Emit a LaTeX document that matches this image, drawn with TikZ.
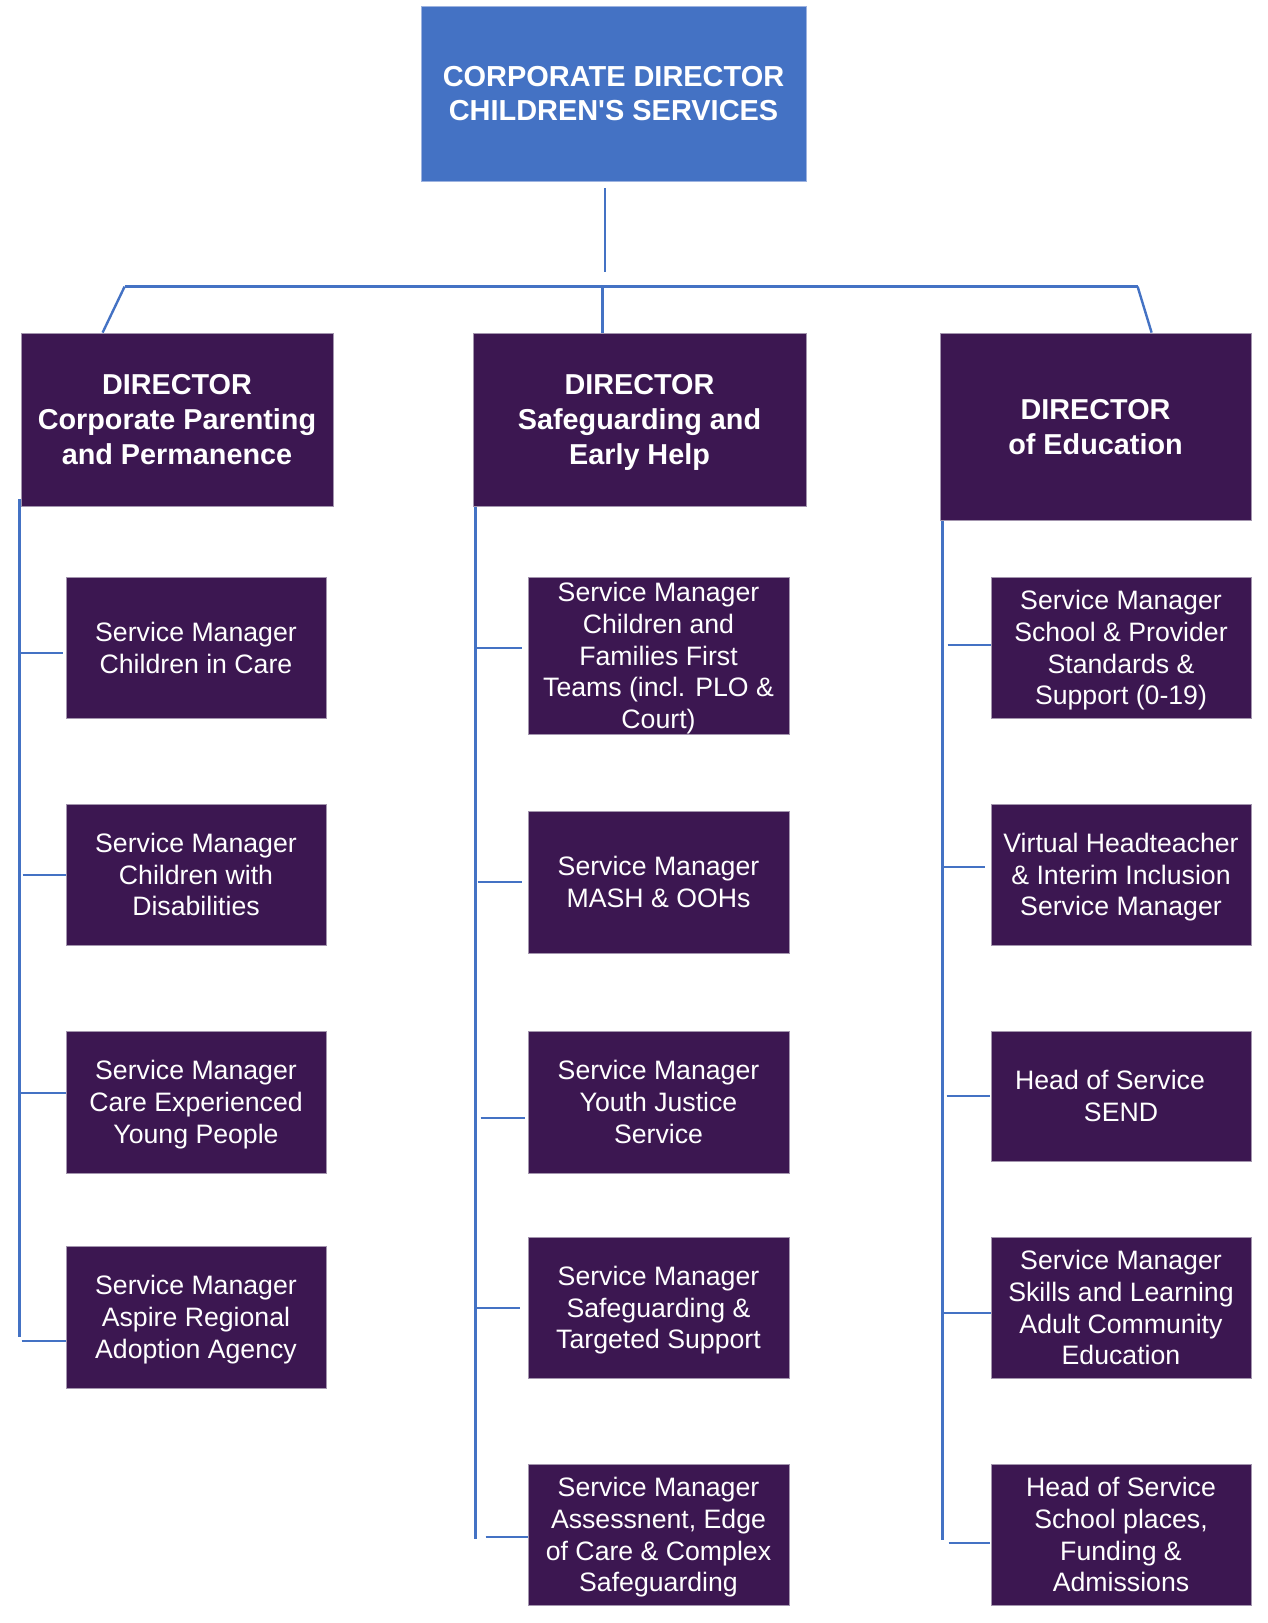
\documentclass[tikz,border=0pt]{standalone}
\usepackage{fontspec}
\setmainfont{Liberation Sans}
\newfontfamily\plainsans{Liberation Sans}
\usetikzlibrary{calc,backgrounds}
\definecolor{topblue}{HTML}{4472C4}
\definecolor{linkblue}{HTML}{4472C4}
\definecolor{darkpurple}{HTML}{3C1751}
\definecolor{boxedge}{HTML}{A395AE}
\definecolor{topedge}{HTML}{9DB3E0}
\begin{document}
\begin{tikzpicture}[x=0.75pt,y=-0.75pt,
  topbox/.style={fill=topblue,draw=topedge,line width=0.6pt,text=white,inner sep=0pt,align=center,
    text depth=0pt,font=\bfseries\fontsize{21.7}{25.5}\selectfont},
  dirbox/.style={fill=darkpurple,draw=boxedge,line width=0.6pt,text=white,inner sep=0pt,align=center,
    text depth=0pt,font=\bfseries\fontsize{21.6}{26.2}\selectfont},
  smbox/.style={fill=darkpurple,draw=boxedge,line width=0.6pt,text=white,inner sep=0pt,align=center,
    text depth=0pt,minimum width=195pt,font=\fontsize{20}{23.8}\selectfont},
  link/.style={draw=linkblue,line width=1.8pt}]
\useasboundingbox (0,0) rectangle (1267,1623);

% top
\node[topbox,minimum width=288.75pt,minimum height=131.25pt] (top) at (613.5,93.5)
  {CORPORATE DIRECTOR\\CHILDREN{\plainsans '}S SERVICES};

% directors
\node[dirbox,minimum width=234pt,minimum height=129.75pt] (dL) at (177,419.5)
  {DIRECTOR\\Corporate Parenting\\and Permanence};
\node[dirbox,minimum width=249.75pt,minimum height=129.75pt] (dM) at (639.5,419.5)
  {DIRECTOR\\Safeguarding and\\Early Help};
\node[dirbox,minimum width=233.25pt,minimum height=140.25pt] (dR) at (1095.5,426.5)
  {DIRECTOR\\of Education};

% left column
\node[smbox,minimum height=105.75pt] (lc1) at (196,647.5) {Service Manager\\Children in Care};
\node[smbox,minimum height=105.75pt] (lc2) at (196,874.5) {Service Manager\\Children with\\Disabilities};
\node[smbox,minimum height=106.5pt] (lc3) at (196,1102) {Service Manager\\Care Experienced\\Young People};
\node[smbox,minimum height=106.5pt] (lc4) at (196,1317) {Service Manager\\Aspire Regional\\Adoption Agency};

% middle column
\node[smbox,minimum width=195.75pt,minimum height=117.75pt] (mc1) at (658.5,655.5)
  {Service Manager\\Children and\\Families First\\Teams (incl. PLO \&\\Court)};
\node[smbox,minimum width=195.75pt,minimum height=106.5pt] (mc2) at (658.5,882)
  {Service Manager\\MASH \& OOHs};
\node[smbox,minimum width=195.75pt,minimum height=106.5pt] (mc3) at (658.5,1102)
  {Service Manager\\Youth Justice\\Service};
\node[smbox,minimum width=195.75pt,minimum height=105.75pt] (mc4) at (658.5,1307.5)
  {Service Manager\\Safeguarding \&\\Targeted Support};
\node[smbox,minimum width=195.75pt,minimum height=105.75pt] (mc5) at (658.5,1534.5)
  {Service Manager\\Assessnent, Edge\\of Care \& Complex\\Safeguarding};

% right column
\node[smbox,minimum height=105.75pt] (rc1) at (1121,647.5)
  {Service Manager\\School \& Provider\\Standards \&\\Support (0-19)};
\node[smbox,minimum height=105.75pt] (rc2) at (1121,874.5)
  {Virtual Headteacher\\\& Interim Inclusion\\Service Manager};
\node[smbox,minimum height=97.5pt] (rc3) at (1121,1096)
  {Head of Service\hspace*{16.5pt}\\SEND};
\node[smbox,minimum height=105.75pt] (rc4) at (1121,1307.5)
  {Service Manager\\Skills and Learning\\Adult Community\\Education};
\node[smbox,minimum height=105.75pt] (rc5) at (1121,1534.5)
  {Head of Service\\School places,\\Funding \&\\Admissions};

\begin{pgfonlayer}{background}
\fill[white] (0,0) rectangle (1267,1623);
% top connectors
\coordinate (t1) at ($(top.south)+(-8.5,7)$);
\coordinate (t2) at ($(top.south)+(-8.5,91)$);
\draw[link] (t1) -- (t2);
\coordinate (b1) at ($(dL.north west)+(104,-46)$);
\coordinate (b2) at ($(dR.north west)+(198,-46)$);
\coordinate (bm) at ($(dM.north west)+(130,-46)$);
\draw[link] (b1) -- (b2);
\draw[link] (b1) -- ($(dL.north west)+(82,0)$);
\draw[link] (bm) -- ($(dM.north west)+(130,0)$);
\draw[link] (b2) -- ($(dR.north west)+(212,0)$);

% left trunk and branches
\draw[link] ($(dL.south west)+(-1,-7)$) -- ($(lc4.west)+(-46,20)$);
\draw[link] ($(lc1.west)+(-46,5.5)$) -- ($(lc1.west)+(-3,5.5)$);
\draw[link] ($(lc2.west)+(-43,0.5)$) -- ($(lc2.west)+(0,0.5)$);
\draw[link] ($(lc3.west)+(-46,-9)$) -- ($(lc3.west)+(0,-9)$);
\draw[link] ($(lc4.west)+(-44,24)$) -- ($(lc4.west)+(0,24)$);

% middle trunk and branches
\draw[link] ($(dM.south west)+(3,0)$) -- ($(mc5.west)+(-52,4.5)$);
\draw[link] ($(mc1.west)+(-51,-7.5)$) -- ($(mc1.west)+(-6,-7.5)$);
\draw[link] ($(mc2.west)+(-50,0)$) -- ($(mc2.west)+(-6,0)$);
\draw[link] ($(mc3.west)+(-47,16)$) -- ($(mc3.west)+(-3,16)$);
\draw[link] ($(mc4.west)+(-51,0.5)$) -- ($(mc4.west)+(-8,0.5)$);
\draw[link] ($(mc5.west)+(-42,2.5)$) -- ($(mc5.west)+(1,2.5)$);

% right trunk and branches
\draw[link] ($(dR.south west)+(3,-2)$) -- ($(rc5.west)+(-48,5.5)$);
\draw[link] ($(rc1.west)+(-43,-2.5)$) -- ($(rc1.west)+(1,-2.5)$);
\draw[link] ($(rc2.west)+(-48,-7.5)$) -- ($(rc2.west)+(-6,-7.5)$);
\draw[link] ($(rc3.west)+(-44,0)$) -- ($(rc3.west)+(-1,0)$);
\draw[link] ($(rc4.west)+(-48,5.5)$) -- ($(rc4.west)+(0,5.5)$);
\draw[link] ($(rc5.west)+(-42,8.5)$) -- ($(rc5.west)+(-1,8.5)$);
\end{pgfonlayer}
\end{tikzpicture}
\end{document}
